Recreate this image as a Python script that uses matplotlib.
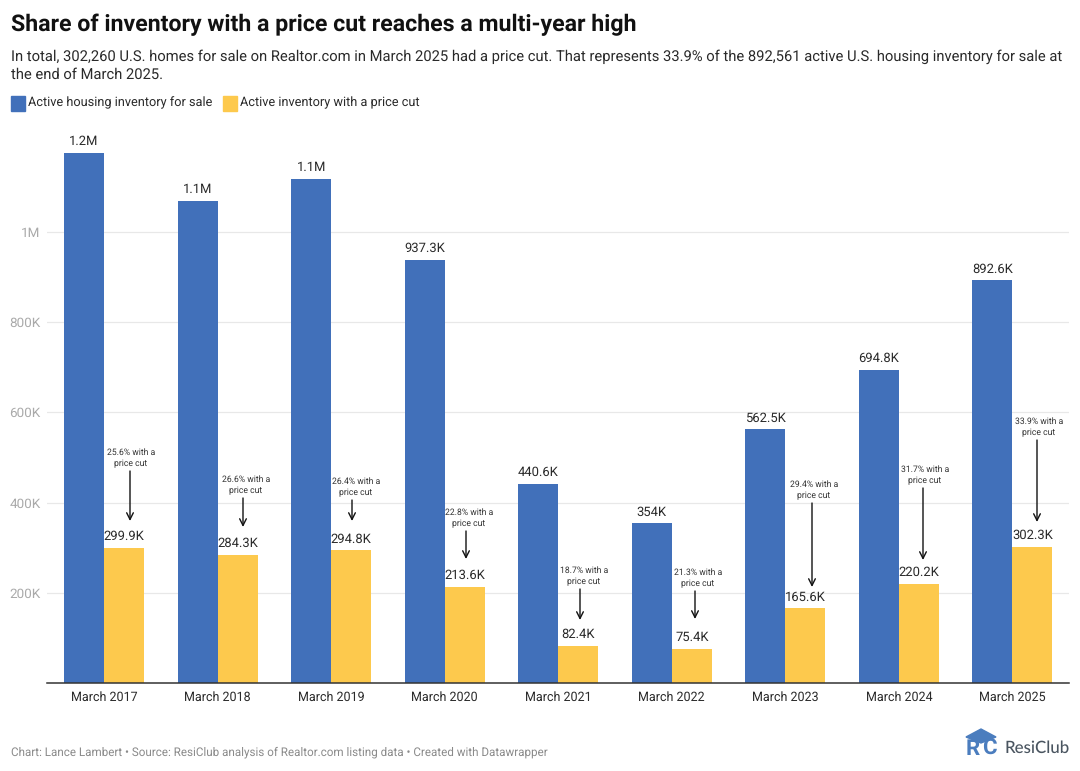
import matplotlib
matplotlib.use("Agg")
import matplotlib.pyplot as plt
from matplotlib.patches import Polygon, Rectangle

W, H = 1080, 771

months = ["March 2017", "March 2018", "March 2019", "March 2020", "March 2021",
          "March 2022", "March 2023", "March 2024", "March 2025"]
active = [1175000, 1069000, 1117000, 937300, 440600, 354000, 562500, 694800, 892600]
active_labels = ["1.2M", "1.1M", "1.1M", "937.3K", "440.6K", "354K", "562.5K", "694.8K", "892.6K"]
price_cut = [299900, 284300, 294800, 213600, 82400, 75400, 165600, 220200, 302300]
price_cut_labels = ["299.9K", "284.3K", "294.8K", "213.6K", "82.4K", "75.4K", "165.6K", "220.2K", "302.3K"]
shares = ["25.6%", "26.6%", "26.4%", "22.8%", "18.7%", "21.3%", "29.4%", "31.7%", "33.9%"]
y_ticks = [200000, 400000, 600000, 800000, 1000000]
y_tick_labels = ["200K", "400K", "600K", "800K", "1M"]

# annotation layout, in pixels
arrow_x = [130, 243, 352, 466, 580, 695, 812, 923, 1037]
note_x = [131, 246, 356, 469, 584, 698, 814, 925, 1039]
arrow_top = [471, 498, 500, 531, 589, 591, 503, 488, 440]
arrow_tip = [521, 527, 521, 559, 620, 619, 587, 560, 522]

BLUE = "#4170BA"
YELLOW = "#FDC94D"
DARK = "#2a2a2a"
FONT = "Roboto"

plt.rcParams["font.family"] = FONT
plt.rcParams["text.hinting"] = "no_hinting"


def fx(px):
    return px / W


def fy(px):
    return 1 - px / H


fig = plt.figure(figsize=(W / 100, H / 100), dpi=100, facecolor="white")
ax = fig.add_axes([fx(47), fy(683), (1069 - 47) / W, (683 - 125) / H])

bar_w = 0.352
for i in range(len(months)):
    ax.bar(i - bar_w / 2, active[i], bar_w, color=BLUE, zorder=2)
    ax.bar(i + bar_w / 2, price_cut[i], bar_w, color=YELLOW, zorder=2)
    ax.annotate(active_labels[i], (i - bar_w / 2, active[i]), xytext=(0, 3.8),
                textcoords="offset points", ha="center", va="bottom",
                fontsize=9.4, color=DARK, zorder=4)
    ax.annotate(price_cut_labels[i], (i + bar_w / 2, price_cut[i]), xytext=(0, 3.6),
                textcoords="offset points", ha="center", va="bottom",
                fontsize=9.4, color=DARK, zorder=4)

ax.set_xlim(-0.502, 8.498)
ax.set_ylim(0, 558 / 451 * 1000000)
ax.set_xticks(range(len(months)))
ax.set_xticklabels(months, fontsize=9.0, color=DARK)
ax.set_yticks(y_ticks)
ax.set_yticklabels(y_tick_labels, fontsize=9.7, color="#aaaaaa")
ax.grid(axis="y", color="#e8e8e8", linewidth=0.9, zorder=0)
ax.tick_params(axis="both", length=0)
ax.tick_params(axis="x", pad=5.5)
ax.tick_params(axis="y", pad=4.5)
for name in ["top", "right", "left"]:
    ax.spines[name].set_visible(False)
ax.spines["bottom"].set_color("#333333")
ax.spines["bottom"].set_linewidth(1.1)
ax.spines["bottom"].set_zorder(5)

# share notes with arrows
for i in range(len(months)):
    fig.text(fx(note_x[i]), fy(arrow_top[i] - 3), shares[i] + " with a\nprice cut",
             ha="center", va="bottom", fontsize=6.2, color="#333333", linespacing=1.35)
    ax.annotate("", xy=(fx(arrow_x[i]), fy(arrow_tip[i])),
                xytext=(fx(arrow_x[i]), fy(arrow_top[i])),
                xycoords="figure fraction", textcoords="figure fraction",
                arrowprops=dict(arrowstyle="->", color="#111111", lw=1.0,
                                shrinkA=0, shrinkB=0, mutation_scale=12))

# header
fig.text(fx(11), fy(24.5), "Share of inventory with a price cut reaches a multi-year high",
         fontsize=16.7, fontweight="bold", color="#111111", va="center")
fig.text(fx(11), fy(56.5), "In total, 302,260 U.S. homes for sale on Realtor.com in March 2025 had a price cut. "
         "That represents 33.9% of the 892,561 active U.S. housing inventory for sale at",
         fontsize=10.63, color=DARK, va="center")
fig.text(fx(11), fy(74.5), "the end of March 2025.", fontsize=10.63, color=DARK, va="center")

# legend
fig.add_artist(Rectangle((fx(11), fy(111)), 14 / W, 15 / H, transform=fig.transFigure, color=BLUE))
fig.text(fx(28.5), fy(103), "Active housing inventory for sale", fontsize=9.15, color=DARK, va="center")
fig.add_artist(Rectangle((fx(223), fy(111)), 14 / W, 15 / H, transform=fig.transFigure, color=YELLOW))
fig.text(fx(240.5), fy(103), "Active inventory with a price cut", fontsize=9.15, color=DARK, va="center")

# footer
fig.text(fx(11), fy(752.5), "Chart: Lance Lambert \u2022 Source: ResiClub analysis of Realtor.com listing data \u2022 Created with Datawrapper",
         fontsize=8.37, color="#8a8a8a", va="center")

# logo
logo_blue = "#4B7DBE"
fig.add_artist(Polygon([(fx(966), fy(737)), (fx(981), fy(729)), (fx(996), fy(737)), (fx(981), fy(743))],
                       transform=fig.transFigure, color=logo_blue))
fig.text(fx(973), fy(749), "R", fontsize=16, fontweight="bold", color=logo_blue, ha="center", va="center")
fig.text(fx(989), fy(749), "C", fontsize=16, fontweight="bold", color=logo_blue, ha="center", va="center")
fig.text(fx(1004), fy(748), "ResiClub", fontsize=12.2, fontweight="medium", family="Lato", color="#4a5560", va="center")

fig.savefig("out.png", dpi=100)
